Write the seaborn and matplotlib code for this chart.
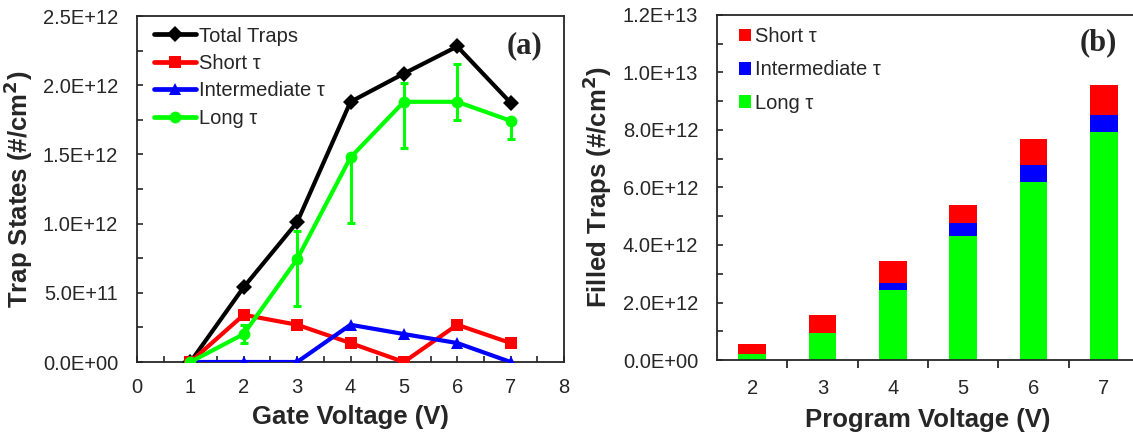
import numpy as np
import pandas as pd
import matplotlib
matplotlib.use("Agg")
import matplotlib.pyplot as plt
import seaborn as sns
from matplotlib.ticker import FuncFormatter, MultipleLocator, FixedLocator

# ---------------- data: panel (a) ----------------
gate_voltage = [1, 2, 3, 4, 5, 6, 7]
total_traps = [0.0, 0.541e12, 1.010e12, 1.880e12, 2.084e12, 2.280e12, 1.873e12]
short_tau = [0.0, 0.341e12, 0.269e12, 0.137e12, 0.0, 0.269e12, 0.137e12]
inter_tau = [0.0, 0.0, 0.0, 0.269e12, 0.202e12, 0.137e12, 0.0]
long_tau = [0.0, 0.202e12, 0.743e12, 1.478e12, 1.880e12, 1.880e12, 1.743e12]
long_err_low = [0.0, 0.066e12, 0.337e12, 0.471e12, 0.337e12, 0.132e12, 0.135e12]
long_err_high = [0.0, 0.066e12, 0.200e12, 0.0, 0.137e12, 0.270e12, 0.0]

# ---------------- data: panel (b) ----------------
program_voltage = ["2", "3", "4", "5", "6", "7"]
filled_long = [0.21e12, 0.95e12, 2.43e12, 4.31e12, 6.20e12, 7.94e12]
filled_inter = [0.0, 0.0, 0.26e12, 0.46e12, 0.59e12, 0.59e12]
filled_short = [0.335e12, 0.61e12, 0.75e12, 0.62e12, 0.88e12, 1.02e12]

series_names = ["Total Traps", "Short τ", "Intermediate τ", "Long τ"]

RED = "#ff0000"
BLUE = "#0000ff"
GREEN = "#00ff00"
BLACK = "#000000"

sns.set_style("ticks")
plt.rcParams["font.family"] = ["Liberation Sans", "DejaVu Sans"]
plt.rcParams["axes.linewidth"] = 1.3

W, H = 1133, 434
fig = plt.figure(figsize=(W / 100, H / 100), dpi=100)

def px_axes(left, top, right, bottom):
    return fig.add_axes([left / W, 1 - bottom / H, (right - left) / W, (bottom - top) / H])

sci_fmt = FuncFormatter(lambda v, p: f"{v:.1E}")

# ---------------- panel (a) ----------------
ax = px_axes(137, 16, 564, 362)
df_a = pd.DataFrame({
    "V": gate_voltage * 4,
    "val": total_traps + short_tau + inter_tau + long_tau,
    "series": sum([[n] * len(gate_voltage) for n in series_names], []),
})
styles = {
    "Total Traps": (BLACK, "D", 8),
    "Short τ": (RED, "s", 8.5),
    "Intermediate τ": (BLUE, "^", 9),
    "Long τ": (GREEN, "o", 8.5),
}
for name in series_names:
    c, m, ms = styles[name]
    sub = df_a[df_a["series"] == name]
    if name == "Long τ":
        ax.errorbar(sub["V"], sub["val"], yerr=[long_err_low, long_err_high],
                    fmt="none", ecolor=GREEN, elinewidth=2.2, capsize=3.2,
                    capthick=2.2, zorder=3)
    sns.lineplot(data=sub, x="V", y="val", color=c, marker=m, markersize=ms,
                 markeredgewidth=0, linewidth=3.0, label=name, ax=ax,
                 errorbar=None, zorder=4)

ax.set_xlim(0, 8)
ax.set_ylim(0, 2.5e12)
ax.xaxis.set_major_locator(MultipleLocator(1))
ax.xaxis.set_minor_locator(MultipleLocator(0.5))
ax.yaxis.set_major_locator(MultipleLocator(0.5e12))
ax.yaxis.set_minor_locator(MultipleLocator(0.25e12))
ax.yaxis.set_major_formatter(sci_fmt)
ax.tick_params(which="both", direction="in", length=4.5, width=1.2, labelsize=14.5)
ax.tick_params(axis="y", pad=13.5)
ax.tick_params(axis="x", pad=11.5)
for s in ax.spines.values():
    s.set_visible(True)
ax.set_xlabel("Gate Voltage (V)", fontsize=18.5, fontweight="bold")
ax.set_ylabel("Trap States (#/cm$^\\mathbf{2}$)", fontsize=18.5, fontweight="bold")
ax.xaxis.set_label_coords(0.5, -0.125)
ax.yaxis.set_label_coords(-0.24, 0.5)
leg = ax.legend(loc="upper left", bbox_to_anchor=(0.0106, 1.0045), frameon=False,
                fontsize=14.5, handlelength=2.1, handletextpad=0.15,
                labelspacing=0.42, borderaxespad=0.2)
for h in leg.legend_handles:
    h.set_linewidth(3.4)
fig.text(524 / W, 1 - 46 / H, "(a)", ha="center", va="center",
         fontsize=22, fontweight="bold", family=["Liberation Serif", "DejaVu Serif"])

# ---------------- panel (b) ----------------
bx = px_axes(717, 15, 1139, 360)
cum_li = [l + i for l, i in zip(filled_long, filled_inter)]
cum_all = [c + s for c, s in zip(cum_li, filled_short)]
sns.barplot(x=program_voltage, y=cum_all, color=RED, width=0.39, linewidth=0,
            saturation=1, label="Short τ", ax=bx, errorbar=None)
sns.barplot(x=program_voltage, y=cum_li, color=BLUE, width=0.39, linewidth=0,
            saturation=1, label="Intermediate τ", ax=bx, errorbar=None)
sns.barplot(x=program_voltage, y=filled_long, color=GREEN, width=0.39, linewidth=0,
            saturation=1, label="Long τ", ax=bx, errorbar=None)
bx.set_xlim(-0.5, 5.5)
bx.set_ylim(0, 1.2e13)
bx.yaxis.set_major_locator(MultipleLocator(2e12))
bx.yaxis.set_minor_locator(MultipleLocator(1e12))
bx.yaxis.set_major_formatter(sci_fmt)
bx.xaxis.set_minor_locator(FixedLocator([0.5, 1.5, 2.5, 3.5, 4.5]))
bx.tick_params(axis="y", which="both", direction="in", length=4, width=1.2,
               labelsize=14.5, pad=13.5)
bx.tick_params(axis="x", which="major", length=0, labelsize=14.5, pad=14)
bx.tick_params(axis="x", which="minor", direction="out", length=5.5, width=1.3)
for s in bx.spines.values():
    s.set_visible(True)
bx.set_xlabel("Program Voltage (V)", fontsize=18.5, fontweight="bold")
bx.set_ylabel("Filled Traps (#/cm$^\\mathbf{2}$)", fontsize=18.5, fontweight="bold")
bx.xaxis.set_label_coords(0.5, -0.14)
bx.yaxis.set_label_coords(-0.245, 0.5)
leg2 = bx.legend(loc="upper left", bbox_to_anchor=(0.023, 1.0), frameon=False,
                 fontsize=14.5, handlelength=0.6, handleheight=0.6,
                 handletextpad=0.2, labelspacing=0.71, borderaxespad=0.2)
fig.text(1098 / W, 1 - 43 / H, "(b)", ha="center", va="center",
         fontsize=22, fontweight="bold", family=["Liberation Serif", "DejaVu Serif"])

fig.savefig("out.png", dpi=100)
